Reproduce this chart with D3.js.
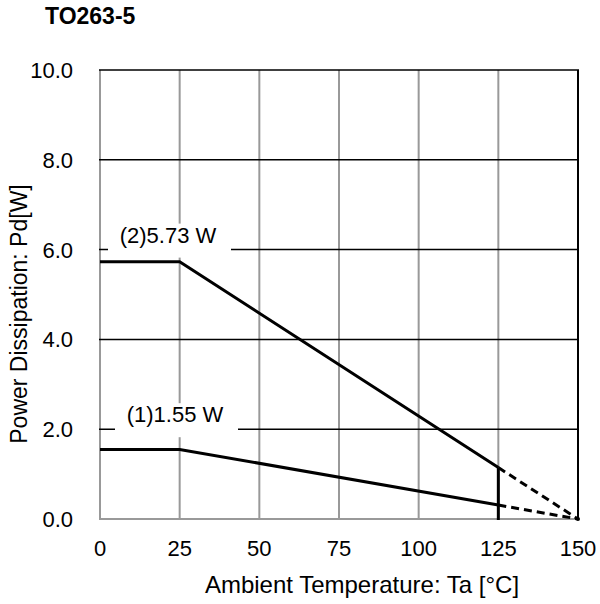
<!DOCTYPE html>
<html>
<head>
<meta charset="utf-8">
<script src="https://cdn.jsdelivr.net/npm/d3@7"></script>
<style>
body { margin: 0; background: #fff; }
text { font-family: "Liberation Sans", Arial, sans-serif; fill: #000; }
</style>
</head>
<body>
<script>
// data
var xTicks = [0, 25, 50, 75, 100, 125, 150];
var yTicks = [0, 2, 4, 6, 8, 10];
var temps = [0, 25, 125];
var tempsDashed = [125, 150];
var curve2 = [5.73, 5.73, 1.146];
var curve2Dashed = [1.146, 0];
var curve1 = [1.55, 1.55, 0.31];
var curve1Dashed = [0.31, 0];
var labels = ["(2)5.73 W", "(1)1.55 W"];
var labelY = [6, 2];

var w = 600, h = 604;
var pLeft = 100, pRight = 578, pTop = 70, pBottom = 519;

var x = d3.scaleLinear().domain([0, 150]).range([pLeft, pRight]);
var y = d3.scaleLinear().domain([0, 10]).range([pBottom, pTop]);

var svg = d3.select("body").append("svg")
	.attr("width", w)
	.attr("height", h);

// title
svg.append("text")
	.attr("x", 45).attr("y", 24)
	.style("font-size", "23px")
	.style("font-weight", "bold")
	.text("TO263-5");

// vertical grid (gray)
svg.append("g").selectAll("line")
	.data(xTicks)
	.enter().append("line")
	.attr("x1", function(d){ return x(d); })
	.attr("x2", function(d){ return x(d); })
	.attr("y1", pTop).attr("y2", pBottom)
	.style("stroke", function(d){ return d == 150 ? "#000" : "#999"; })
	.style("stroke-width", 2);

// horizontal grid (black)
svg.append("g").selectAll("line")
	.data(yTicks)
	.enter().append("line")
	.attr("x1", pLeft - 1).attr("x2", pRight + 1)
	.attr("y1", function(d){ return y(d); })
	.attr("y2", function(d){ return y(d); })
	.style("stroke", function(d){ return d == 0 ? "#999" : "#000"; })
	.style("stroke-width", function(d){ return d == 0 ? 2 : 1.5; });

// label boxes over the grid
var boxX = [108, 115];
var lbl = svg.append("g").selectAll("g")
	.data(labels)
	.enter().append("g");
lbl.append("rect")
	.attr("x", function(d, i){ return boxX[i]; })
	.attr("y", function(d, i){ return y(labelY[i]) - 26; })
	.attr("width", 123)
	.attr("height", 34)
	.style("fill", "#fff");
lbl.append("text")
	.attr("x", function(d, i){ return boxX[i] + 60; })
	.attr("y", function(d, i){ return y(labelY[i]) - 7; })
	.attr("text-anchor", "middle")
	.style("font-size", "22px")
	.text(function(d){ return d; });

var line = d3.line()
	.x(function(d){ return x(d[0]); })
	.y(function(d){ return y(d[1]); });

function drawCurve(ts, vs, dashed) {
	svg.append("path")
		.attr("d", line(ts.map(function(t, i){ return [t, vs[i]]; })))
		.style("fill", "none")
		.style("stroke", "#000")
		.style("stroke-width", 3)
		.style("stroke-dasharray", dashed ? "8,5" : null);
}
drawCurve(temps, curve2, false);
drawCurve(temps, curve1, false);
drawCurve(tempsDashed, curve2Dashed, true);
drawCurve(tempsDashed, curve1Dashed, true);

// vertical cut at 125
svg.append("line")
	.attr("x1", x(125)).attr("x2", x(125))
	.attr("y1", y(0) + 1).attr("y2", y(curve2[2]))
	.style("stroke", "#000")
	.style("stroke-width", 3);

svg.append("circle")
	.attr("cx", x(150)).attr("cy", y(0))
	.attr("r", 2)
	.style("fill", "#000");

// tick labels
svg.append("g").selectAll("text")
	.data(yTicks)
	.enter().append("text")
	.attr("x", 73)
	.attr("y", function(d){ return y(d) + 8; })
	.attr("text-anchor", "end")
	.style("font-size", "22px")
	.text(function(d){ return d3.format(".1f")(d); });

svg.append("g").selectAll("text")
	.data(xTicks)
	.enter().append("text")
	.attr("x", function(d){ return x(d); })
	.attr("y", 556)
	.attr("text-anchor", "middle")
	.style("font-size", "22px")
	.text(function(d){ return d; });

// axis titles
svg.append("text")
	.attr("x", 362).attr("y", 593)
	.attr("text-anchor", "middle")
	.style("font-size", "24px")
	.text("Ambient Temperature: Ta [°C]");

svg.append("text")
	.attr("transform", "translate(27,314) rotate(-90)")
	.attr("text-anchor", "middle")
	.style("font-size", "23px")
	.text("Power Dissipation: Pd[W]");
</script>
</body>
</html>
